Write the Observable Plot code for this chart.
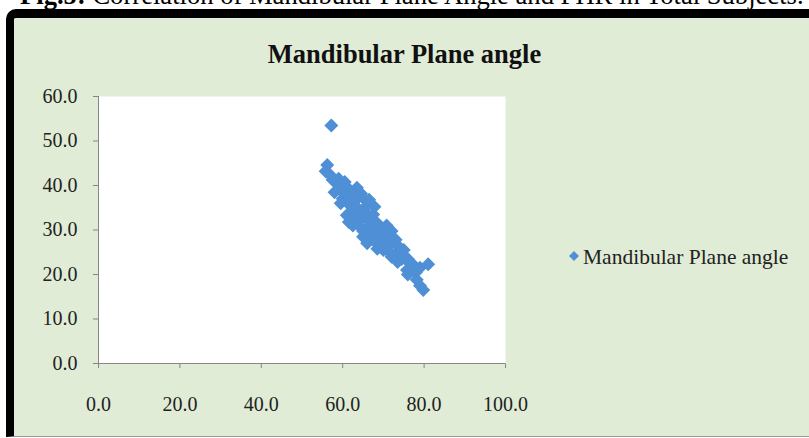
<!DOCTYPE html>
<html><head><meta charset="utf-8">
<script src="https://cdn.jsdelivr.net/npm/d3@7"></script>
<script src="https://cdn.jsdelivr.net/npm/@observablehq/plot@0.6"></script>
<style>
html,body{margin:0;padding:0;background:#fff;}
#page{position:relative;width:809px;height:438px;overflow:hidden;font-family:"Liberation Serif","Times New Roman",serif;color:#000;}
#caption{position:absolute;left:20px;top:-18px;font-size:26.6px;line-height:1;white-space:nowrap;}
#frame{position:absolute;left:6px;top:9px;width:830px;height:428px;box-sizing:border-box;border-top:9px solid #000;border-left:8px solid #000;border-top-left-radius:10px;background:#E0ECD6;border-bottom:1px solid #9a9a9a;}
#chart{position:absolute;left:0;top:0;}
#chart svg text{fill:#222;}
#title{position:absolute;left:0;width:809px;text-align:center;top:41px;font-weight:bold;font-size:26.5px;line-height:1;color:#111;}
#legend{position:absolute;left:568px;top:247px;font-size:21.5px;line-height:1;white-space:nowrap;color:#222;}
#legend svg{position:absolute;left:1px;top:4px;}
#legend span{position:absolute;left:15px;top:0;}
</style></head>
<body>
<div id="page">
  <div id="caption"><b>Fig.5:</b> Correlation of Mandibular Plane Angle and FHR in Total Subjects.</div>
  <div id="frame"></div>
  <div id="chart"></div>
  <div id="title"></div>
  <div id="legend"><svg width="10" height="10"><path d="M5 0L10 5L5 10L0 5Z" fill="#4F8FD6"/></svg><span></span></div>
</div>
<script>
const seriesName = "Mandibular Plane angle";
const xTicks = [0, 20, 40, 60, 80, 100];
const yTicks = [0, 10, 20, 30, 40, 50, 60];
const fhr = [57.2, 56.2, 55.8, 56.8, 57.5, 58.5, 59.2, 60.5, 61.2, 62.5, 61.0, 60.0, 61.5, 63.0, 64.5, 65.2, 66.0, 67.8, 64.0, 62.0, 61.0, 61.5, 63.0, 65.0, 66.5, 67.5, 68.5, 69.5, 70.8, 72.0, 70.0, 68.0, 66.5, 65.0, 66.0, 67.5, 69.0, 70.5, 72.0, 73.5, 75.0, 71.5, 73.0, 74.5, 76.0, 72.0, 73.5, 75.8, 77.0, 78.0, 79.0, 81.0, 78.2, 79.0, 79.8,
  58.0, 59.5, 62.5, 63.5, 65.5, 66.5, 62.5, 64.0, 66.0, 67.0, 65.0, 68.5, 70.0, 68.5, 71.0, 73.0, 74.0, 76.5, 77.5, 76.0, 59.0, 63.5, 69.5, 71.5];
const mpa = [53.5, 44.6, 43.2, 42.5, 41.3, 40.5, 39.2, 40.8, 39.5, 37.8, 38.0, 37.0, 35.8, 36.5, 38.2, 37.0, 35.5, 35.2, 34.5, 33.8, 33.3, 31.8, 32.5, 33.0, 32.0, 33.5, 31.5, 30.5, 31.0, 29.8, 29.0, 29.5, 29.5, 28.5, 27.0, 27.8, 27.0, 27.5, 27.0, 26.5, 25.5, 25.0, 24.5, 23.5, 23.5, 24.0, 22.8, 21.0, 21.0, 20.5, 21.5, 22.3, 18.8, 17.5, 16.5,
  38.5, 36.0, 34.5, 35.0, 34.0, 36.8, 31.0, 31.0, 30.5, 31.0, 29.8, 28.0, 25.5, 25.8, 28.5, 27.8, 25.0, 22.5, 22.0, 20.0, 41.5, 39.5, 29.0, 26.5];

document.getElementById("title").textContent = seriesName;
document.querySelector("#legend span").textContent = seriesName;

const data = fhr.map((x, i) => ({x, y: mpa[i]}));
const fmt = d => d.toFixed(1);

const chart = Plot.plot({
  width: 809,
  height: 438,
  marginLeft: 98,
  marginRight: 304,
  marginTop: 96,
  marginBottom: 75,
  style: {background: "none", fontFamily: "'Liberation Serif', 'Times New Roman', serif", fontSize: "20px", color: "#868686", overflow: "visible"},
  x: {domain: [0, 100], ticks: xTicks, tickFormat: fmt, tickSize: 5, tickPadding: 28, label: null},
  y: {domain: [0, 60], ticks: yTicks, tickFormat: fmt, tickSize: 5, tickPadding: 16, label: null},
  marks: [
    Plot.frame({fill: "white", stroke: null}),
    Plot.ruleY([0], {stroke: "#868686"}),
    Plot.ruleX([0], {stroke: "#868686"}),
    Plot.dot(data, {x: "x", y: "y", symbol: "diamond2", r: 6.3, fill: "#4F8FD6", stroke: null})
  ]
});
document.getElementById("chart").appendChild(chart);
</script>
</body></html>
